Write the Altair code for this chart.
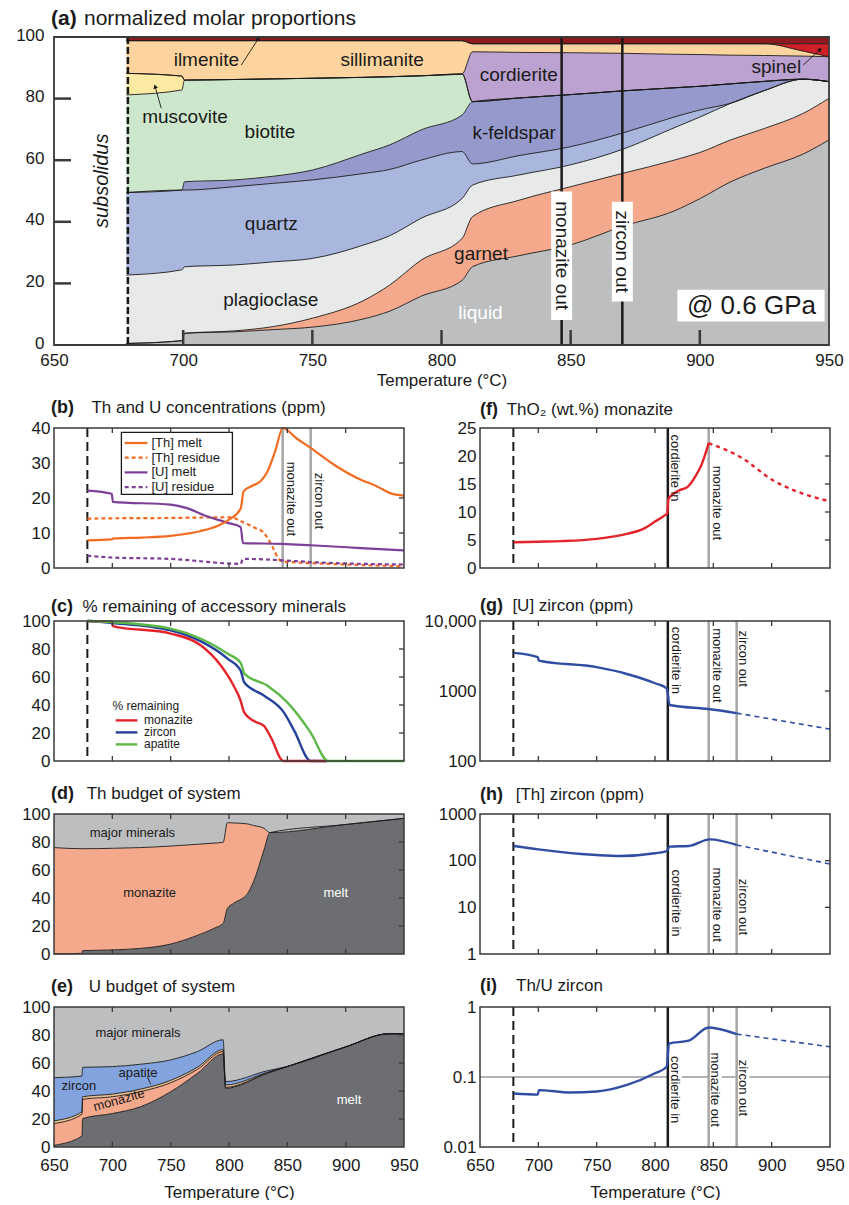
import altair as alt
import pandas as pd

FONT = "Liberation Sans"
INK = "#1a1a1a"
FRAME_COLOR = "#3a3a3a"
GREY_LINE = "#a6a6a6"

W_A, H_A = 775, 308      # panel (a) plot area
W_C, H_C = 350, 140      # panels (b)-(i) plot areas

T_MIN, T_MAX = 650, 950
T_LABELS = [650, 700, 750, 800, 850, 900, 950]
T_TICKS = [700, 750, 800, 850, 900]

T_SOLIDUS = 678.6
T_CRD_IN = 811
T_MNZ_OUT = 846
T_ZRN_OUT = 870

XS = alt.Scale(domain=[T_MIN, T_MAX], nice=False, zero=False)
ONE = pd.DataFrame({"k": [0]})
SMOOTH = "monotone"

# ---------------- (a) normalized molar proportions (cumulative upper boundaries, mol %) ----------------
T_A = [678, 699.5, 700.5, 720, 735, 750, 770, 780, 792, 808, 812, 830, 850, 870, 890, 900, 912, 925, 940, 950]
liquid_top = [0.5, 1.4, 3.8, 4.3, 5.0, 5.8, 8.5, 11.0, 15.8, 21.0, 25.4, 29.0, 32.5, 38.5, 43.5, 47.5, 53.0, 57.4, 62.0, 66.6]
garnet_top = [0.5, 1.4, 3.8, 4.6, 6.0, 8.7, 14.5, 19.5, 27.5, 34.6, 41.7, 47.0, 51.4, 55.7, 60.0, 62.5, 66.6, 70.3, 75.2, 80.1]
plagioclase_top = [22.7, 24.4, 25.4, 26.0, 27.0, 28.1, 32.5, 35.5, 41.1, 47.6, 51.9, 55.2, 58.5, 63.5, 70.5, 74.0, 78.5, 82.6, 86.3, 85.5]
quartz_top = [49.5, 50.3, 50.3, 51.4, 52.5, 53.6, 55.7, 57.0, 60.0, 62.8, 58.8, 61.5, 64.4, 68.8, 74.0, 76.3, 78.5, 82.6, 86.3, 85.5]
kfeldspar_top = [49.5, 50.3, 53.0, 53.6, 54.8, 56.8, 62.2, 65.0, 69.8, 74.7, 79.0, 80.2, 81.3, 82.5, 83.5, 84.0, 84.8, 85.6, 86.3, 85.5]
biotite_top = [81.2, 82.8, 86.0, 86.2, 86.4, 86.6, 86.9, 87.1, 87.4, 88.0, 79.0, 80.2, 81.3, 82.5, 83.5, 84.0, 84.8, 85.6, 86.3, 85.5]
muscovite_top = [88.2, 87.3, 86.0, 86.2, 86.4, 86.6, 86.9, 87.1, 87.4, 88.0, 79.0, 80.2, 81.3, 82.5, 83.5, 84.0, 84.8, 85.6, 86.3, 85.5]
cordierite_top = [88.2, 87.3, 86.0, 86.2, 86.4, 86.6, 86.9, 87.1, 87.4, 88.0, 95.2, 95.0, 94.9, 94.7, 94.4, 94.3, 94.1, 94.0, 93.8, 93.6]
sillimanite_top = [98.8, 98.8, 98.8, 98.8, 98.8, 98.8, 98.8, 98.8, 98.8, 98.8, 97.8, 97.8, 97.8, 97.8, 97.8, 97.8, 97.8, 97.8, 95.4, 93.6]
spinel_top = [98.8, 98.8, 98.8, 98.8, 98.8, 98.8, 98.8, 98.8, 98.8, 98.8, 97.8, 97.8, 97.8, 97.8, 97.8, 97.8, 97.8, 97.8, 97.8, 97.8]
ilmenite_top = [100, 100, 100, 100, 100, 100, 100, 100, 100, 100, 100, 100, 100, 100, 100, 100, 100, 100, 100, 100]

PHASES = ["liquid", "garnet", "plagioclase", "quartz", "k-feldspar", "biotite",
          "muscovite", "cordierite", "sillimanite", "spinel", "ilmenite"]
PHASE_TOPS = [liquid_top, garnet_top, plagioclase_top, quartz_top, kfeldspar_top, biotite_top,
              muscovite_top, cordierite_top, sillimanite_top, spinel_top, ilmenite_top]
PHASE_COLORS = ["#bcbec0", "#f5a98c", "#e7eae8", "#a9b7de", "#9699cc", "#cde7cd",
                "#fdeaa2", "#bba2d0", "#fdd49d", "#cf1f27", "#8e1a1d"]

# labels of panel (a): centre position in (T, mol %)
LABEL_A_TEXT = ["ilmenite", "sillimanite", "muscovite", "biotite", "quartz", "plagioclase",
                "k-feldspar", "cordierite", "garnet", "spinel"]
LABEL_A_T = [709, 777, 700.7, 733.6, 734.1, 733.9, 828.1, 829.9, 815.3, 929.6]
LABEL_A_V = [92.6, 92.6, 74.1, 69.0, 39.3, 14.6, 68.7, 87.7, 29.5, 90.3]

# leader arrows in panel (a): start, end, head angle
ARROW_T0 = [722.5, 691.5, 940.0]
ARROW_V0 = [90.9, 76.9, 90.9]
ARROW_T1 = [729.0, 689.2, 946.4]
ARROW_V1 = [99.3, 83.7, 95.8]
ARROW_ANGLE = [33, 344, 48]

# ---------------- (b) Th and U concentrations (ppm) ----------------
TH_MELT_T = [678.6, 699.5, 700.5, 725, 750, 775, 790, 800, 810, 812.5, 820, 827, 833, 840, 846, 858, 870, 890, 913, 927, 938, 950]
TH_MELT = [7.9, 8.2, 8.4, 8.7, 9.2, 10.5, 12.0, 13.8, 16.9, 21.9, 23.5, 24.8, 27.6, 33.8, 40.0, 37.0, 34.3, 29.5, 25.2, 23.3, 21.4, 20.7]
TH_RES_T = [678.6, 700, 750, 801, 813, 822, 830, 837, 843, 846, 870, 900, 950]
TH_RES = [14.1, 14.2, 14.3, 14.5, 12.9, 11.5, 10.0, 6.2, 2.4, 1.9, 1.4, 1.0, 0.5]
U_MELT_T = [678.6, 699.5, 700.5, 750, 764, 781, 799, 810, 812, 846, 870, 913, 950]
U_MELT = [22.1, 21.2, 18.9, 18.1, 17.1, 14.8, 12.9, 11.7, 7.1, 6.9, 6.5, 5.7, 5.0]
U_RES_T = [678.6, 700, 750, 810, 812, 846, 870, 950]
U_RES = [3.5, 3.0, 2.6, 1.2, 2.6, 2.2, 1.7, 1.0]

# ---------------- (c) % remaining of accessory minerals ----------------
MNZ_T = [678.6, 699.5, 700.5, 750, 776, 793, 804, 810, 813, 821, 830, 836, 846.6, 884]
MNZ = [100, 99.5, 96.4, 91.0, 82.5, 68.2, 53.8, 43.0, 34.7, 28.7, 25.1, 16.7, 0, 0]
ZRN_T = [678.6, 700, 750, 776, 799, 810, 813, 830, 847, 856, 870, 884]
ZRN = [100, 98.6, 93.3, 85.4, 73.0, 64.6, 56.2, 46.7, 34.7, 21.5, 0, 0]
APA_T = [678.6, 700, 750, 776, 799, 810, 813.4, 833, 850, 870, 885, 950]
APA = [100, 99.2, 94.5, 87.3, 76.6, 70.1, 62.2, 53.8, 41.9, 20.3, 0, 0]

# ---------------- (d) Th budget of system (cumulative %) ----------------
T_D = [650, 674, 674.5, 700, 724, 750, 770, 787, 795, 798.6, 804, 816, 821, 830, 835, 900, 950]
melt_d = [0.0, 0.5, 2.4, 2.9, 4.0, 7.1, 12.4, 18.3, 21.9, 32.6, 36.2, 43.3, 51.7, 74.3, 86.7, 92.5, 96.9]
monazite_d = [76.0, 75.2, 75.2, 75.5, 76.0, 77.1, 78.2, 79.2, 79.8, 93.8, 93.6, 92.9, 91.8, 89.8, 86.7, 92.5, 96.9]
major_d = [100, 100, 100, 100, 100, 100, 100, 100, 100, 100, 100, 100, 100, 100, 100, 100, 100]

# ---------------- (e) U budget of system (cumulative %) ----------------
T_E = [650, 674, 674.5, 700, 724, 750, 773, 795, 797, 833, 850, 900, 937, 950]
melt_e = [1.2, 7.9, 20.3, 23.9, 28.7, 39.5, 52.6, 66.5, 41.9, 52.6, 57.5, 71.5, 80.9, 80.9]
monazite_e = [16.7, 23.4, 34.0, 35.9, 39.5, 45.9, 55.5, 68.2, 42.6, 53.0, 57.5, 71.5, 80.9, 80.9]
apatite_e = [18.7, 25.1, 35.9, 37.8, 41.3, 47.6, 57.0, 69.6, 44.3, 53.4, 57.5, 71.5, 80.9, 80.9]
zircon_e = [49.5, 50.7, 56.9, 57.4, 59.1, 62.2, 68.2, 76.6, 46.7, 54.5, 57.5, 71.5, 80.9, 80.9]
major_e = [100, 100, 100, 100, 100, 100, 100, 100, 100, 100, 100, 100, 100, 100]

# ---------------- (f) ThO2 (wt.%) monazite ----------------
THO2_T = [679, 700, 720, 750, 776, 790, 800, 807.5, 810.5, 811.5, 815, 820, 828, 835, 840, 846]
THO2 = [4.6, 4.7, 4.8, 5.2, 6.1, 7.0, 8.3, 9.3, 9.8, 12.3, 13.1, 13.8, 14.5, 16.5, 18.5, 22.3]
THO2_POST_T = [846, 875, 900, 925, 950]
THO2_POST = [22.3, 19.6, 15.8, 13.4, 11.9]

# ---------------- (g) [U] zircon (ppm) ----------------
U_ZRN_T = [679, 699.5, 700.5, 750, 776, 800, 810, 812.6, 846, 870]
U_ZRN = [3510, 3040, 2720, 2190, 1750, 1290, 1090, 630, 552, 483]
U_ZRN_POST_T = [870, 900, 950]
U_ZRN_POST = [483, 396, 285]

# ---------------- (h) [Th] zircon (ppm) ----------------
TH_ZRN_T = [679, 700, 750, 770, 800, 810, 812.6, 829, 847, 870]
TH_ZRN = [206, 175, 132, 126, 144, 161, 200, 206, 286, 217]
TH_ZRN_POST_T = [870, 950]
TH_ZRN_POST = [217, 85]

# ---------------- (i) Th/U zircon ----------------
THU_T = [679, 699.5, 700.5, 727, 750, 776, 800, 810, 812, 829, 846, 870]
THU = [0.058, 0.056, 0.065, 0.060, 0.062, 0.077, 0.113, 0.14, 0.30, 0.33, 0.51, 0.41]
THU_POST_T = [870, 950]
THU_POST = [0.41, 0.27]

ORANGE = "#f26b21"
PURPLE = "#7d3f98"
RED = "#e5232a"
BLUE = "#24419b"
GREEN = "#5db847"
ZBLUE = "#2f4ea3"


def bottom_x_axis(pad=10, title_pad=11):
    return alt.Axis(values=T_LABELS, title="Temperature (°C)", ticks=False, domain=False, grid=False,
                    labelFontSize=17, titleFontSize=17, titleFontWeight="normal", labelPadding=pad,
                    titlePadding=title_pad, labelColor=INK, titleColor=INK, labelOverlap=False,
                    labelFlush=False)


def left_y_axis(values, label_expr=None, pad=4, size=17, offset=0):
    kw = dict(values=values, title=None, ticks=False, domain=False, grid=False, labelFontSize=size,
              labelPadding=pad, labelColor=INK, labelOverlap=False, labelFlush=False)
    if label_expr:
        kw["labelExpr"] = label_expr
    if offset:
        kw["labelOffset"] = offset
    return alt.Axis(**kw)


class Panel:
    """One plot area; every layer shares the same scales and axis definitions."""

    def __init__(self, ysc, xax, yax, w, h):
        self.ysc, self.xax, self.yax = ysc, xax, yax
        self.w, self.h = w, h
        self.layers = []

    def X(self, field="T"):
        return alt.X(f"{field}:Q", scale=XS, axis=self.xax)

    def Y(self, field="v", **kw):
        return alt.Y(f"{field}:Q", scale=self.ysc, axis=self.yax, **kw)

    def add(self, *charts):
        self.layers.extend(charts)

    def vline(self, t, color, width, dash=None):
        kw = {"color": color, "strokeWidth": width}
        if dash:
            kw["strokeDash"] = dash
        self.add(alt.Chart(pd.DataFrame({"T": [t]})).mark_rule(**kw).encode(x=self.X()))

    def hline(self, v, color, width):
        self.add(alt.Chart(pd.DataFrame({"v": [v]})).mark_rule(color=color, strokeWidth=width).encode(y=self.Y()))

    def series(self, ts, vs, color, width=2.2, dash=None, interp=SMOOTH):
        kw = {"color": color, "strokeWidth": width, "interpolate": interp}
        if dash:
            kw["strokeDash"] = dash
        d = pd.DataFrame({"T": ts, "v": vs})
        self.add(alt.Chart(d).mark_line(**kw).encode(x=self.X(), y=self.Y()))

    def vlabel(self, t, ypx, text, size=13):
        self.add(alt.Chart(pd.DataFrame({"T": [t]})).mark_text(
            text=text, angle=90, fontSize=size, align="center", baseline="middle", color=INK
        ).encode(x=self.X(), y=alt.value(ypx)))

    def text_at(self, ts, vs, texts, size=13, color=INK, angle=0, **extra):
        d = pd.DataFrame({"T": ts, "v": vs, "label": texts})
        self.add(alt.Chart(d).mark_text(fontSize=size, color=color, align="center", baseline="middle",
                                        angle=angle, **extra).encode(x=self.X(), y=self.Y(), text="label:N"))

    def pixel_text(self, x, y, text, size=13, color=INK):
        self.add(alt.Chart(ONE).mark_text(text=text, align="left", baseline="middle", fontSize=size,
                                          color=color).encode(x=alt.value(x), y=alt.value(y)))

    def pixel_rule(self, x, x2, y, color, width, dash=None):
        kw = {"color": color, "strokeWidth": width}
        if dash:
            kw["strokeDash"] = dash
        self.add(alt.Chart(ONE).mark_rule(**kw).encode(
            x=alt.value(x), x2=alt.value(x2), y=alt.value(y)))

    def stacked(self, ts, names, tops, colors, interp=SMOOTH):
        lower = [0.0] * len(ts)
        for name, top, col in zip(names, tops, colors):
            d = pd.DataFrame({"T": ts, "lo": lower, "hi": top})
            self.add(alt.Chart(d).mark_area(interpolate=interp, color=col).encode(
                x=self.X(), y=self.Y("hi", stack=None), y2="lo:Q"))
            lower = top
        for top in tops[:-1]:
            d = pd.DataFrame({"T": ts, "v": top})
            self.add(alt.Chart(d).mark_line(color=INK, strokeWidth=0.9, interpolate=interp).encode(
                x=self.X(), y=self.Y()))

    def x_ticks(self, length=5, width=1.3, top=True):
        d = pd.DataFrame({"T": T_TICKS})
        self.add(alt.Chart(d).mark_rule(color=FRAME_COLOR, strokeWidth=width).encode(
            x=self.X(), y=alt.value(self.h), y2=alt.value(self.h - length)))
        if top:
            self.add(alt.Chart(d).mark_rule(color=FRAME_COLOR, strokeWidth=width).encode(
                x=self.X(), y=alt.value(0), y2=alt.value(length)))

    def y_ticks(self, values, length=5, width=1.3, side="right"):
        d = pd.DataFrame({"v": values})
        x0, x1 = (self.w - length, self.w) if side == "right" else (0, length)
        self.add(alt.Chart(d).mark_rule(color=FRAME_COLOR, strokeWidth=width).encode(
            x=alt.value(x0), x2=alt.value(x1), y=self.Y()))

    def frame(self, width=1.5):
        self.add(alt.Chart(ONE).mark_rect(fillOpacity=0, stroke=FRAME_COLOR, strokeWidth=width).encode(
            x=alt.value(0), x2=alt.value(self.w), y=alt.value(0), y2=alt.value(self.h)))

    def title(self, tag, text, text_x, base_y, tag_x=-3, tag_size=18, text_size=17):
        self.add(alt.Chart(ONE).mark_text(text=tag, align="left", baseline="alphabetic", fontSize=tag_size,
                                          fontWeight="bold", color=INK).encode(
            x=alt.value(tag_x), y=alt.value(base_y)))
        self.add(alt.Chart(ONE).mark_text(text=text, align="left", baseline="alphabetic", fontSize=text_size,
                                          color=INK).encode(x=alt.value(text_x), y=alt.value(base_y)))

    def anchor(self, x, y):
        # invisible corner mark that fixes the layout bounds
        self.pixel_rule(x, x + 1, y, "white", 1)

    def chart(self):
        return alt.layer(*self.layers).properties(width=self.w, height=self.h)


# ---------------- panel (a) ----------------
pa = Panel(alt.Scale(domain=[0, 100], nice=False, zero=False), bottom_x_axis(pad=7, title_pad=4),
           left_y_axis([0, 20, 40, 60, 80, 100], pad=10, offset=-2), W_A, H_A)
pa.stacked(T_A, PHASES, PHASE_TOPS, PHASE_COLORS)
pa.vline(T_SOLIDUS, INK, 2.5, [7, 3])
pa.vline(T_MNZ_OUT + 0.5, INK, 2.5)
pa.vline(T_ZRN_OUT, INK, 2.5)
box_df = pd.DataFrame({"T": [T_MNZ_OUT + 0.5, T_ZRN_OUT], "v": [8.1, 14.1], "v2": [49.8, 46.5]})
pa.add(alt.Chart(box_df).mark_rule(color="white", strokeWidth=21).encode(x=pa.X(), y=pa.Y(), y2="v2:Q"))
pa.text_at([T_MNZ_OUT + 0.5, T_ZRN_OUT], [29.0, 30.3], ["monazite out", "zircon out"], size=19, angle=90)
gpa_df = pd.DataFrame({"T": [891.3], "T2": [948.3], "v": [7.6], "v2": [17.9]})
pa.add(alt.Chart(gpa_df).mark_rect(color="white").encode(x=pa.X(), x2="T2:Q", y=pa.Y(), y2="v2:Q"))
pa.text_at([920], [12.8], ["@ 0.6 GPa"], size=26)
pa.text_at(LABEL_A_T, LABEL_A_V, LABEL_A_TEXT, size=19)
pa.text_at([815.1], [10.3], ["liquid"], size=19, color="white")
pa.text_at([668.6], [53.3], ["subsolidus"], size=20, angle=270, fontStyle="italic")
arrow_df = pd.DataFrame({"T": ARROW_T0, "v": ARROW_V0, "T1": ARROW_T1, "v1": ARROW_V1, "ang": ARROW_ANGLE})
pa.add(alt.Chart(arrow_df).mark_rule(color=INK, strokeWidth=0.9).encode(
    x=pa.X(), y=pa.Y(), x2="T1:Q", y2="v1:Q"))
pa.add(alt.Chart(arrow_df).mark_point(shape="triangle", filled=True, size=22, color=INK, opacity=1).encode(
    x=pa.X("T1"), y=pa.Y("v1"), angle=alt.Angle("ang:Q", scale=None)))
pa.x_ticks(length=15, width=2.5, top=False)
pa.y_ticks([20, 40, 60, 80], length=17, width=2.5, side="left")
pa.frame(1.8)
pa.title("(a)", "normalized molar proportions", 30, -12, tag_size=21, text_size=21)
pa.anchor(-53, -36.5)
pa.anchor(-53, H_A + 47)
panel_a = pa.chart()

# ---------------- panel (b) ----------------
pb = Panel(alt.Scale(domain=[0, 40], nice=False, zero=False), None, left_y_axis([0, 10, 20, 30, 40]), W_C, H_C)
pb.vline(T_SOLIDUS, INK, 2, [9, 5])
pb.vline(T_MNZ_OUT, GREY_LINE, 2.5)
pb.vline(T_ZRN_OUT, GREY_LINE, 2.5)
pb.series(TH_RES_T, TH_RES, ORANGE, 2.2, [4, 3])
pb.series(U_RES_T, U_RES, PURPLE, 2.2, [4, 3])
pb.series(U_MELT_T, U_MELT, PURPLE, 2.2)
pb.series(TH_MELT_T, TH_MELT, ORANGE, 2.2)
pb.vlabel(853.5, 71, "monazite out")
pb.vlabel(876.9, 73, "zircon out")
pb.add(alt.Chart(ONE).mark_rect(fill="white", stroke=INK, strokeWidth=1.3).encode(
    x=alt.value(67.4), x2=alt.value(178.4), y=alt.value(4.3), y2=alt.value(66.3)))
LEG_B = [("[Th] melt", ORANGE, None), ("[Th] residue", ORANGE, [4, 3]),
         ("[U] melt", PURPLE, None), ("[U] residue", PURPLE, [4, 3])]
for i, (name, col, dash) in enumerate(LEG_B):
    yy = 15 + i * 14.7
    pb.pixel_rule(70.7, 93.4, yy, col, 2.2, dash)
    pb.pixel_text(97.4, yy, name)
pb.x_ticks()
pb.y_ticks([10, 20, 30])
pb.frame()
pb.title("(b)", "Th and U concentrations (ppm)", 37.4, -15)
pb.anchor(-53, -32)
panel_b = pb.chart()

# ---------------- panel (c) ----------------
pc = Panel(alt.Scale(domain=[0, 100], nice=False, zero=False), None,
           left_y_axis([0, 20, 40, 60, 80, 100]), W_C, H_C)
pc.vline(T_SOLIDUS, INK, 2, [9, 5])
pc.series(ZRN_T, ZRN, BLUE, 2.4)
pc.series(MNZ_T, MNZ, RED, 2.4)
pc.series(APA_T, APA, GREEN, 2.4)
pc.pixel_text(58.4, 85, "% remaining", size=12)
for i, (name, col) in enumerate([("monazite", RED), ("zircon", BLUE), ("apatite", GREEN)]):
    yy = 99.4 + i * 12
    pc.pixel_rule(61.7, 83.4, yy, col, 2.4)
    pc.pixel_text(90, yy, name, size=12)
pc.x_ticks()
pc.y_ticks([20, 40, 60, 80])
pc.frame()
pc.title("(c)", "% remaining of accessory minerals", 28.4, -9)
panel_c = pc.chart()

# ---------------- panel (d) ----------------
pd_ = Panel(alt.Scale(domain=[0, 100], nice=False, zero=False), None,
            left_y_axis([0, 20, 40, 60, 80, 100]), W_C, H_C)
pd_.stacked(T_D, ["melt", "monazite", "major minerals"], [melt_d, monazite_d, major_d],
            ["#6d6e71", "#f5a98c", "#bcbec0"])
pd_.text_at([717.2, 732], [86.7, 43.9], ["major minerals", "monazite"])
pd_.text_at([891.5], [43.4], ["melt"], color="white")
pd_.x_ticks()
pd_.y_ticks([20, 40, 60, 80])
pd_.frame()
pd_.title("(d)", "Th budget of system", 32.7, -15)
panel_d = pd_.chart()

# ---------------- panel (e) ----------------
pe = Panel(alt.Scale(domain=[0, 100], nice=False, zero=False), bottom_x_axis(),
           left_y_axis([0, 20, 40, 60, 80, 100]), W_C, H_C)
pe.stacked(T_E, ["melt", "monazite", "apatite", "zircon", "major minerals"],
           [melt_e, monazite_e, apatite_e, zircon_e, major_e],
           ["#6d6e71", "#f5a98c", "#e9c08f", "#82a3de", "#bcbec0"])
pe.text_at([722, 671.4, 722], [81.4, 43.4, 52.9], ["major minerals", "zircon", "apatite"])
pe.text_at([705.7], [33.4], ["monazite"], angle=344)
pe.text_at([902.9], [33.4], ["melt"], color="white")
pe.add(alt.Chart(pd.DataFrame({"T": [730], "v": [50.3], "T1": [732.9], "v1": [44.8]})).mark_rule(
    color=INK, strokeWidth=0.9).encode(x=pe.X(), y=pe.Y(), x2="T1:Q", y2="v1:Q"))
pe.x_ticks()
pe.y_ticks([20, 40, 60, 80])
pe.frame()
pe.title("(e)", "U budget of system", 34.7, -15)
panel_e = pe.chart()

# ---------------- panel (f) ----------------
pf = Panel(alt.Scale(domain=[0, 25], nice=False, zero=False), None,
           left_y_axis([0, 5, 10, 15, 20, 25]), W_C, H_C)
pf.vline(T_SOLIDUS, INK, 2, [9, 5])
pf.vline(T_CRD_IN, INK, 2.5)
pf.vline(T_MNZ_OUT, GREY_LINE, 2.5)
pf.series(THO2_T, THO2, RED, 2.4)
pf.series(THO2_POST_T, THO2_POST, RED, 2.4, [4, 4])
pf.vlabel(817.4, 40, "cordierite in")
pf.vlabel(853, 75, "monazite out")
pf.x_ticks()
pf.y_ticks([5, 10, 15, 20])
pf.frame()
pf.title("(f)", "ThO₂ (wt.%) monazite", 26.7, -13, tag_x=0)
panel_f = pf.chart()

# ---------------- panel (g) ----------------
pg = Panel(alt.Scale(type="log", domain=[100, 10000], nice=False), None,
           left_y_axis([100, 1000, 10000], "datum.value >= 10000 ? '10,000' : format(datum.value, 'd')"),
           W_C, H_C)
pg.vline(T_SOLIDUS, INK, 2, [9, 5])
pg.vline(T_CRD_IN, INK, 2.5)
pg.vline(T_MNZ_OUT, GREY_LINE, 2.5)
pg.vline(T_ZRN_OUT, GREY_LINE, 2.5)
pg.series(U_ZRN_T, U_ZRN, ZBLUE, 2.4)
pg.series(U_ZRN_POST_T, U_ZRN_POST, ZBLUE, 1.6, [5, 4])
pg.vlabel(817.9, 39.4, "cordierite in")
pg.vlabel(853, 44.4, "monazite out")
pg.vlabel(875.3, 37.7, "zircon out")
pg.x_ticks()
pg.y_ticks([1000])
pg.frame()
pg.title("(g)", "[U] zircon (ppm)", 32.4, -10, tag_x=0)
panel_g = pg.chart()

# ---------------- panel (h) ----------------
ph = Panel(alt.Scale(type="log", domain=[1, 1000], nice=False), None,
           left_y_axis([1, 10, 100, 1000], "format(datum.value, 'd')"), W_C, H_C)
ph.vline(T_SOLIDUS, INK, 2, [9, 5])
ph.vline(T_CRD_IN, INK, 2.5)
ph.vline(T_MNZ_OUT, GREY_LINE, 2.5)
ph.vline(T_ZRN_OUT, GREY_LINE, 2.5)
ph.series(TH_ZRN_T, TH_ZRN, ZBLUE, 2.4)
ph.series(TH_ZRN_POST_T, TH_ZRN_POST, ZBLUE, 1.6, [5, 4])
ph.vlabel(818.3, 89, "cordierite in")
ph.vlabel(853, 90.7, "monazite out")
ph.vlabel(875.3, 93, "zircon out")
ph.x_ticks()
ph.y_ticks([10, 100])
ph.frame()
ph.title("(h)", "[Th] zircon (ppm)", 35.7, -14, tag_x=0)
panel_h = ph.chart()

# ---------------- panel (i) ----------------
pi = Panel(alt.Scale(type="log", domain=[0.01, 1], nice=False), bottom_x_axis(),
           left_y_axis([0.01, 0.1, 1], "format(datum.value, '~g')"), W_C, H_C)
pi.hline(0.1, "#9a9a9a", 1.4)
I_LABEL_T = [817.4, 851.6, 875.3]
I_LABEL_Y = [82.7, 82.7, 81]
I_LABEL_TOP = [47.7, 42.7, 51]
I_LABEL_BOTTOM = [117.7, 122.7, 111]
for t, top, bot in zip(I_LABEL_T, I_LABEL_TOP, I_LABEL_BOTTOM):
    pi.add(alt.Chart(pd.DataFrame({"T": [t]})).mark_rule(color="white", strokeWidth=13).encode(
        x=pi.X(), y=alt.value(top), y2=alt.value(bot)))
pi.vline(T_SOLIDUS, INK, 2, [9, 5])
pi.vline(T_CRD_IN, INK, 2.5)
pi.vline(T_MNZ_OUT, GREY_LINE, 2.5)
pi.vline(T_ZRN_OUT, GREY_LINE, 2.5)
pi.series(THU_T, THU, ZBLUE, 2.4)
pi.series(THU_POST_T, THU_POST, ZBLUE, 1.6, [5, 4])
for t, yy, txt in zip(I_LABEL_T, I_LABEL_Y, ["cordierite in", "monazite out", "zircon out"]):
    pi.vlabel(t, yy, txt)
pi.x_ticks()
pi.frame()
pi.title("(i)", "Th/U zircon", 36, -16, tag_x=0)
panel_i = pi.chart()

# ---------------- layout ----------------
grid = alt.concat(panel_b, panel_f, panel_c, panel_g, panel_d, panel_h, panel_e, panel_i,
                  columns=2, spacing={"row": 53, "column": 76}, bounds="flush")

chart = alt.vconcat(panel_a, grid, spacing=2, padding=0).configure(font=FONT).configure_view(stroke=None)

chart.save("out.html", embed_options={"renderer": "svg", "actions": False})
